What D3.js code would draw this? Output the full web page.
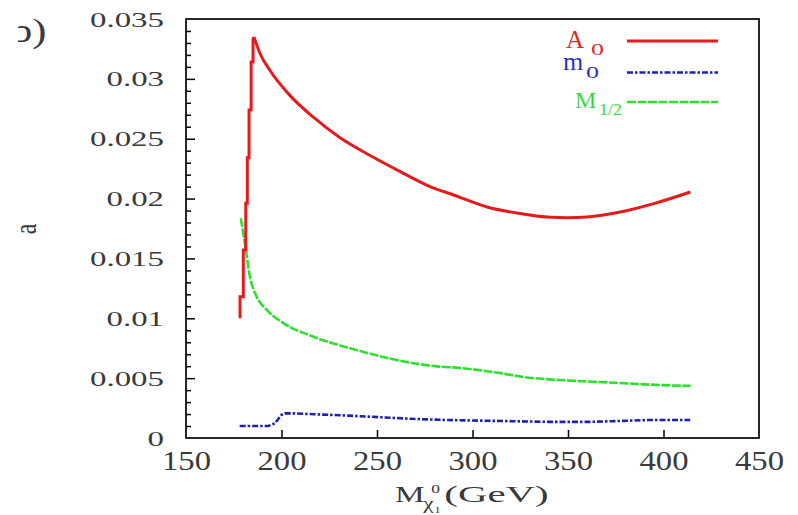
<!DOCTYPE html>
<html>
<head>
<meta charset="utf-8">
<script src="https://cdn.jsdelivr.net/npm/d3@7"></script>
<style>
  html, body { margin: 0; padding: 0; background: #fff; }
  svg { display: block; }
  svg text { font-family: "Liberation Serif", "DejaVu Serif", "Noto Serif", serif; }
</style>
</head>
<body>
<svg id="chart" width="798" height="515"></svg>
<script>
// ---- data ----
const xTicks = [150, 200, 250, 300, 350, 400, 450];
const yTicks = [0, 0.005, 0.01, 0.015, 0.02, 0.025, 0.03, 0.035];

// A0: step-like rise, then smooth fall / rise
const a0StepX = [178.3, 178.3, 180.0, 180.0, 181.3, 181.3, 182.1, 182.1, 183.0, 183.0, 184.1, 184.1, 185.1, 185.1, 185.6];
const a0StepY = [0.0100, 0.0118, 0.0118, 0.0157, 0.0157, 0.0196, 0.0196, 0.0234, 0.0234, 0.0274, 0.0274, 0.0314, 0.0314, 0.0333, 0.0335];
const a0X = [185.6, 188.8, 194.0, 204.5, 216.7, 230.5, 246.4, 260.4, 277.8, 290.1, 307.6, 325.1, 339.0, 350.0, 360.0, 377.4, 394.9, 414.1];
const a0Y = [0.0335, 0.0321, 0.0307, 0.0286, 0.0268, 0.0251, 0.0236, 0.0224, 0.0210, 0.0203, 0.0193, 0.01875, 0.01846, 0.0184, 0.01846, 0.01888, 0.01958, 0.02055];

const m0X = [178.1, 193.0, 196.5, 199.9, 201.7, 207.0, 217.5, 235.0, 252.5, 270.0, 287.4, 304.8, 322.3, 339.7, 362.3, 392.0, 414.0];
const m0Y = [0.0010, 0.0010, 0.00122, 0.00192, 0.00206, 0.00206, 0.00198, 0.00187, 0.00173, 0.00159, 0.00150, 0.00145, 0.00140, 0.00135, 0.00135, 0.00150, 0.00150];

const mhX = [178.7, 180.9, 183.5, 187.0, 192.3, 201.0, 216.7, 239.5, 260.4, 281.4, 293.6, 311.1, 328.6, 346.0, 363.5, 381.0, 398.5, 414.2];
const mhY = [0.01835, 0.0162, 0.01346, 0.0118, 0.0107, 0.0096, 0.00846, 0.00734, 0.00651, 0.00598, 0.00585, 0.0055, 0.00506, 0.00484, 0.0047, 0.00456, 0.00442, 0.00436];

const seriesNames = ["A", "m", "M"];
const seriesSubs = ["0", "0", "1/2"];

// ---- layout ----
const svg = d3.select("#chart");
const x = d3.scaleLinear().domain([150, 450]).range([186, 759]);
const y = d3.scaleLinear().domain([0, 0.035]).range([438, 19]);

const colors = { a0: "#e41a1c", m0: "#1f1fb4", mh: "#2ee02e" };
const FONT = '"Liberation Serif", "DejaVu Serif", "Noto Serif", serif';

const defs = svg.append("defs");
defs.append("clipPath").attr("id", "plotclip")
  .append("rect").attr("x", 186).attr("y", 19).attr("width", 573).attr("height", 419);
defs.append("clipPath").attr("id", "bclip")
  .append("rect").attr("x", 18).attr("y", 0).attr("width", 60).attr("height", 80);

// y axis major ticks
const fmtY = d => d === 0 ? "0" : String(+d.toFixed(3));
const yAxis = svg.append("g").attr("transform", "translate(186,0)")
  .call(d3.axisLeft(y).tickValues(yTicks).tickSize(-9).tickPadding(22).tickFormat(fmtY));
// y minor ticks
const minor = d3.range(0, 36).map(i => i / 1000).filter(v => !yTicks.some(t => Math.abs(t - v) < 1e-9));
const yMinor = svg.append("g").attr("transform", "translate(186,0)")
  .call(d3.axisLeft(y).tickValues(minor).tickSize(-5).tickFormat(""));
yMinor.select(".domain").remove();

// x axis
const xAxis = svg.append("g").attr("transform", "translate(0,438)")
  .call(d3.axisBottom(x).tickValues(xTicks).tickSize(-8).tickPadding(13).tickFormat(d3.format("d")));

[yAxis, xAxis].forEach(g => {
  g.attr("font-family", FONT);
  g.select(".domain").remove();
});
xAxis.selectAll(".tick line").filter(d => d === 150 || d === 450).remove();
yAxis.selectAll(".tick line").filter(d => d === 0 || d === 0.035).remove();
svg.selectAll(".tick line").attr("stroke", "#000").attr("stroke-width", 1.5);

yAxis.selectAll(".tick text")
  .attr("font-size", 22).attr("fill", "#3a3a3a")
  .attr("textLength", d => { const s = fmtY(d); return s.replace(".", "").length * 16.5 + (s.includes(".") ? 8 : 0); })
  .attr("lengthAdjust", "spacingAndGlyphs");
xAxis.selectAll(".tick text")
  .attr("font-size", 27).attr("fill", "#3a3a3a")
  .attr("textLength", 49)
  .attr("lengthAdjust", "spacingAndGlyphs");

// frame
svg.append("rect").attr("x", 186).attr("y", 19).attr("width", 573).attr("height", 419)
  .attr("fill", "none").attr("stroke", "#111").attr("stroke-width", 1.8);

// curves
const lineLin = d3.line().x(d => x(d[0])).y(d => y(d[1]));
const lineSmooth = d3.line().x(d => x(d[0])).y(d => y(d[1])).curve(d3.curveMonotoneX);
const plot = svg.append("g").attr("clip-path", "url(#plotclip)");
plot.append("path").datum(d3.zip(mhX, mhY)).attr("d", lineSmooth)
  .attr("fill", "none").attr("stroke", colors.mh).attr("stroke-width", 2.6).attr("stroke-dasharray", "9,1.5");
plot.append("path").datum(d3.zip(m0X, m0Y)).attr("d", lineLin)
  .attr("fill", "none").attr("stroke", colors.m0).attr("stroke-width", 2.6).attr("stroke-dasharray", "6,2,2.5,2");
plot.append("path").datum(d3.zip(a0StepX, a0StepY)).attr("d", lineLin)
  .attr("fill", "none").attr("stroke", colors.a0).attr("stroke-width", 3).attr("stroke-linejoin", "miter");
plot.append("path").datum(d3.zip(a0X, a0Y)).attr("d", lineSmooth)
  .attr("fill", "none").attr("stroke", colors.a0).attr("stroke-width", 3);

// legend
const leg = [
  { name: seriesNames[0], sub: seriesSubs[0], color: "#e02828", tx: 566, ty: 48, sx: 591, sy: 55, ly: 41, stroke: colors.a0, dash: null, sw: 3, tfs: 25 },
  { name: seriesNames[1], sub: seriesSubs[1], color: "#2e2ec4", tx: 563, ty: 70, sx: 586, sy: 78, ly: 72.5, stroke: colors.m0, dash: "6,2,2.5,2", sw: 2.6, tfs: 26 },
  { name: seriesNames[2], sub: seriesSubs[2], color: "#3ed63e", tx: 575, ty: 108, sx: 599, sy: 115, ly: 102, stroke: colors.mh, dash: "9,1.5", sw: 2.6, tfs: 24 }
];
leg.forEach(l => {
  svg.append("text").attr("x", l.tx).attr("y", l.ty).attr("font-size", l.tfs).attr("fill", l.color)
    .attr("font-family", FONT).text(l.name);
  svg.append("text").attr("x", l.sx).attr("y", l.sy).attr("font-size", 17).attr("fill", l.color)
    .attr("font-family", FONT)
    .attr("textLength", l.sub.length > 1 ? 23 : 13).attr("lengthAdjust", "spacingAndGlyphs").text(l.sub);
  const p = svg.append("line").attr("x1", 627).attr("x2", 718).attr("y1", l.ly).attr("y2", l.ly)
    .attr("stroke", l.stroke).attr("stroke-width", l.sw);
  if (l.dash) p.attr("stroke-dasharray", l.dash);
});

// y axis title
svg.append("text").attr("transform", "translate(36,229) rotate(-90) scale(1,1.35)")
  .attr("text-anchor", "middle").attr("font-size", 24).attr("fill", "#3a3a3a")
  .attr("font-family", FONT).text("a");

// x axis title: M_{chi_1^0} (GeV)
const xt = svg.append("g").attr("transform", "translate(395,502) scale(1.45,1)")
  .attr("fill", "#3a3a3a").attr("font-family", FONT);
xt.append("text").attr("x", 0).attr("y", 0).attr("font-size", 23).text("M");
xt.append("text").attr("x", 19.5).attr("y", 7).attr("font-size", 16).text("χ");
xt.append("text").attr("x", 25).attr("y", -9).attr("font-size", 12).text("0");
xt.append("text").attr("x", 27).attr("y", 11.5).attr("font-size", 9).text("1");
xt.append("text").attr("x", 34).attr("y", 0).attr("font-size", 23)
  .attr("textLength", 72).attr("lengthAdjust", "spacingAndGlyphs").text("(GeV)");

// panel label (partly cut on the left in the reference)
svg.append("g").attr("clip-path", "url(#bclip)")
  .append("text").attr("transform", "translate(11,42) scale(1.25,1)")
  .attr("font-size", 34).attr("fill", "#3a3a3a").attr("font-family", FONT).text("b)");
</script>
</body>
</html>
